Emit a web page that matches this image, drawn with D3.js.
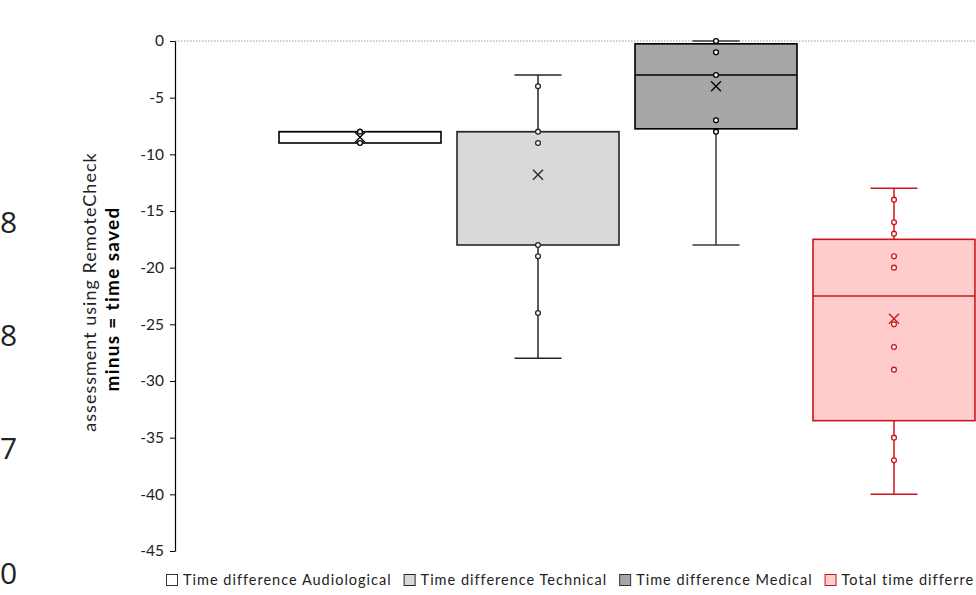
<!DOCTYPE html>
<html>
<head>
<meta charset="utf-8">
<script src="https://cdn.jsdelivr.net/npm/d3@7/dist/d3.min.js"></script>
<style>
  html, body { margin: 0; padding: 0; background: #fff; }
  svg { display: block; }
</style>
</head>
<body>
<svg id="chart" width="976" height="595"></svg>
<script>
// ---- data ----
const categories = ["Time difference Audiological", "Time difference Technical", "Time difference Medical", "Total time differre"];
const mins    = [-9,   -28, -18,   -40];
const q1s     = [-9,   -18, -7.75, -33.5];
const medians = [-8,   -8,  -3,    -22.5];
const q3s     = [-8,   -8,  -0.25, -17.5];
const maxs    = [-8,   -3,  0,     -13];
const means   = [-8.5, -11.8, -4,  -24.5];
const pointsAudiological = [-8, -9];
const pointsTechnical    = [-4, -8, -9, -18, -19, -24];
const pointsMedical      = [0, -1, -3, -7, -8];
const pointsTotal        = [-14, -16, -17, -19, -20, -25, -27, -29, -35, -37];
const yTicks = [0, -5, -10, -15, -20, -25, -30, -35, -40, -45];
const fills   = ["#ffffff", "#d9d9d9", "#a6a6a6", "#ffcccc"];
const strokes = ["#000000", "#262626", "#000000", "#c8161d"];
const sideLabels = ["8", "8", "7", "0"];
const sideLabelPos = [233, 346, 459, 584];

const allPoints = [pointsAudiological, pointsTechnical, pointsMedical, pointsTotal];
const series = categories.map((c, i) => ({
  name: c, min: mins[i], q1: q1s[i], median: medians[i], q3: q3s[i], max: maxs[i],
  mean: means[i], points: allPoints[i], fill: fills[i], stroke: strokes[i]
}));

const svg = d3.select("#chart");
const font = "Lato, 'Open Sans', sans-serif";

const y = d3.scaleLinear().domain([-45, 0]).range([551, 41]);
const x = d3.scaleBand().domain(categories).range([271, 983]).paddingInner(0.09).paddingOuter(0.045);

// cropped digits on left edge
svg.selectAll("text.side").data(sideLabels).join("text")
  .attr("class", "side")
  .attr("x", 0).attr("y", (d, i) => sideLabelPos[i])
  .attr("font-family", "'Open Sans', sans-serif").attr("font-size", 30).attr("fill", "#222")
  .text(d => d);

// zero reference dotted line
svg.append("line")
  .attr("x1", 175).attr("x2", 976)
  .attr("y1", y(0)).attr("y2", y(0))
  .attr("stroke", "#9a9a9a").attr("stroke-width", 1).attr("stroke-dasharray", "1.5,1.5");

// y axis
const yAxis = d3.axisLeft(y).tickValues(yTicks).tickSize(5).tickSizeOuter(0).tickPadding(6)
  .tickFormat(d => String(d));
const gy = svg.append("g").attr("transform", "translate(175,0)").call(yAxis);
gy.select(".domain").attr("stroke", "#000").attr("stroke-width", 1.2);
gy.selectAll(".tick line").attr("stroke", "#000").attr("stroke-width", 1);
gy.selectAll(".tick text").attr("font-family", font).attr("font-size", 15.5).attr("fill", "#222");

// axis title
const tG = svg.append("g");
tG.append("text")
  .attr("transform", "translate(96,292) rotate(-90)")
  .attr("text-anchor", "middle")
  .attr("font-family", font).attr("font-size", 18).attr("fill", "#222")
  .attr("letter-spacing", 1)
  .text("assessment using RemoteCheck");
tG.append("text")
  .attr("transform", "translate(119,299) rotate(-90)")
  .attr("text-anchor", "middle")
  .attr("font-family", font).attr("font-size", 19).attr("font-weight", "bold").attr("fill", "#000")
  .attr("letter-spacing", 1.3)
  .text("minus = time saved");

// boxes
const bw = x.bandwidth();
const capW = 47;
const g = svg.selectAll("g.box").data(series).join("g").attr("class", "box")
  .attr("transform", d => `translate(${x(d.name)},0)`);

g.each(function(d) {
  const s = d3.select(this);
  const cx = bw / 2;
  const wc = d.stroke === "#000000" ? "#3a3a3a" : d.stroke;
  if (d.max > d.q3) {
    s.append("line").attr("x1", cx).attr("x2", cx).attr("y1", y(d.max)).attr("y2", y(d.q3))
      .attr("stroke", wc).attr("stroke-width", 1.5);
    s.append("line").attr("x1", cx - capW / 2).attr("x2", cx + capW / 2).attr("y1", y(d.max)).attr("y2", y(d.max))
      .attr("stroke", wc).attr("stroke-width", 1.5);
  }
  if (d.min < d.q1) {
    s.append("line").attr("x1", cx).attr("x2", cx).attr("y1", y(d.q1)).attr("y2", y(d.min))
      .attr("stroke", wc).attr("stroke-width", 1.5);
    s.append("line").attr("x1", cx - capW / 2).attr("x2", cx + capW / 2).attr("y1", y(d.min)).attr("y2", y(d.min))
      .attr("stroke", wc).attr("stroke-width", 1.5);
  }
  s.append("rect").attr("x", 0).attr("width", bw)
    .attr("y", y(d.q3)).attr("height", y(d.q1) - y(d.q3))
    .attr("fill", d.fill).attr("stroke", d.stroke).attr("stroke-width", 1.6);
  s.append("line").attr("x1", 0).attr("x2", bw).attr("y1", y(d.median)).attr("y2", y(d.median))
    .attr("stroke", d.stroke).attr("stroke-width", 1.3);
  s.selectAll("circle").data(d.points).join("circle")
    .attr("cx", cx).attr("cy", v => y(v)).attr("r", 2.4)
    .attr("fill", "#fff").attr("stroke", d.stroke).attr("stroke-width", 1.3);
  const m = 5;
  s.append("path")
    .attr("d", `M${cx - m},${y(d.mean) - m}L${cx + m},${y(d.mean) + m}M${cx - m},${y(d.mean) + m}L${cx + m},${y(d.mean) - m}`)
    .attr("stroke", d.stroke).attr("stroke-width", 1.3).attr("fill", "none");
});

// legend (flowing left to right)
let lx = 166;
series.forEach(d => {
  const lg = svg.append("g").attr("class", "legend").attr("transform", `translate(${lx},574)`);
  lg.append("rect").attr("x", 0.5).attr("y", 0.5).attr("width", 11).attr("height", 11)
    .attr("fill", d.fill).attr("stroke", d.stroke === "#000000" ? "#333" : d.stroke).attr("stroke-width", 1);
  const t = lg.append("text").attr("x", 17).attr("y", 11)
    .attr("font-family", font).attr("font-size", 14.5).attr("fill", "#222").attr("letter-spacing", 1.0)
    .text(d.name);
  lx += 17 + t.node().getComputedTextLength() + 12;
});
</script>
</body>
</html>
